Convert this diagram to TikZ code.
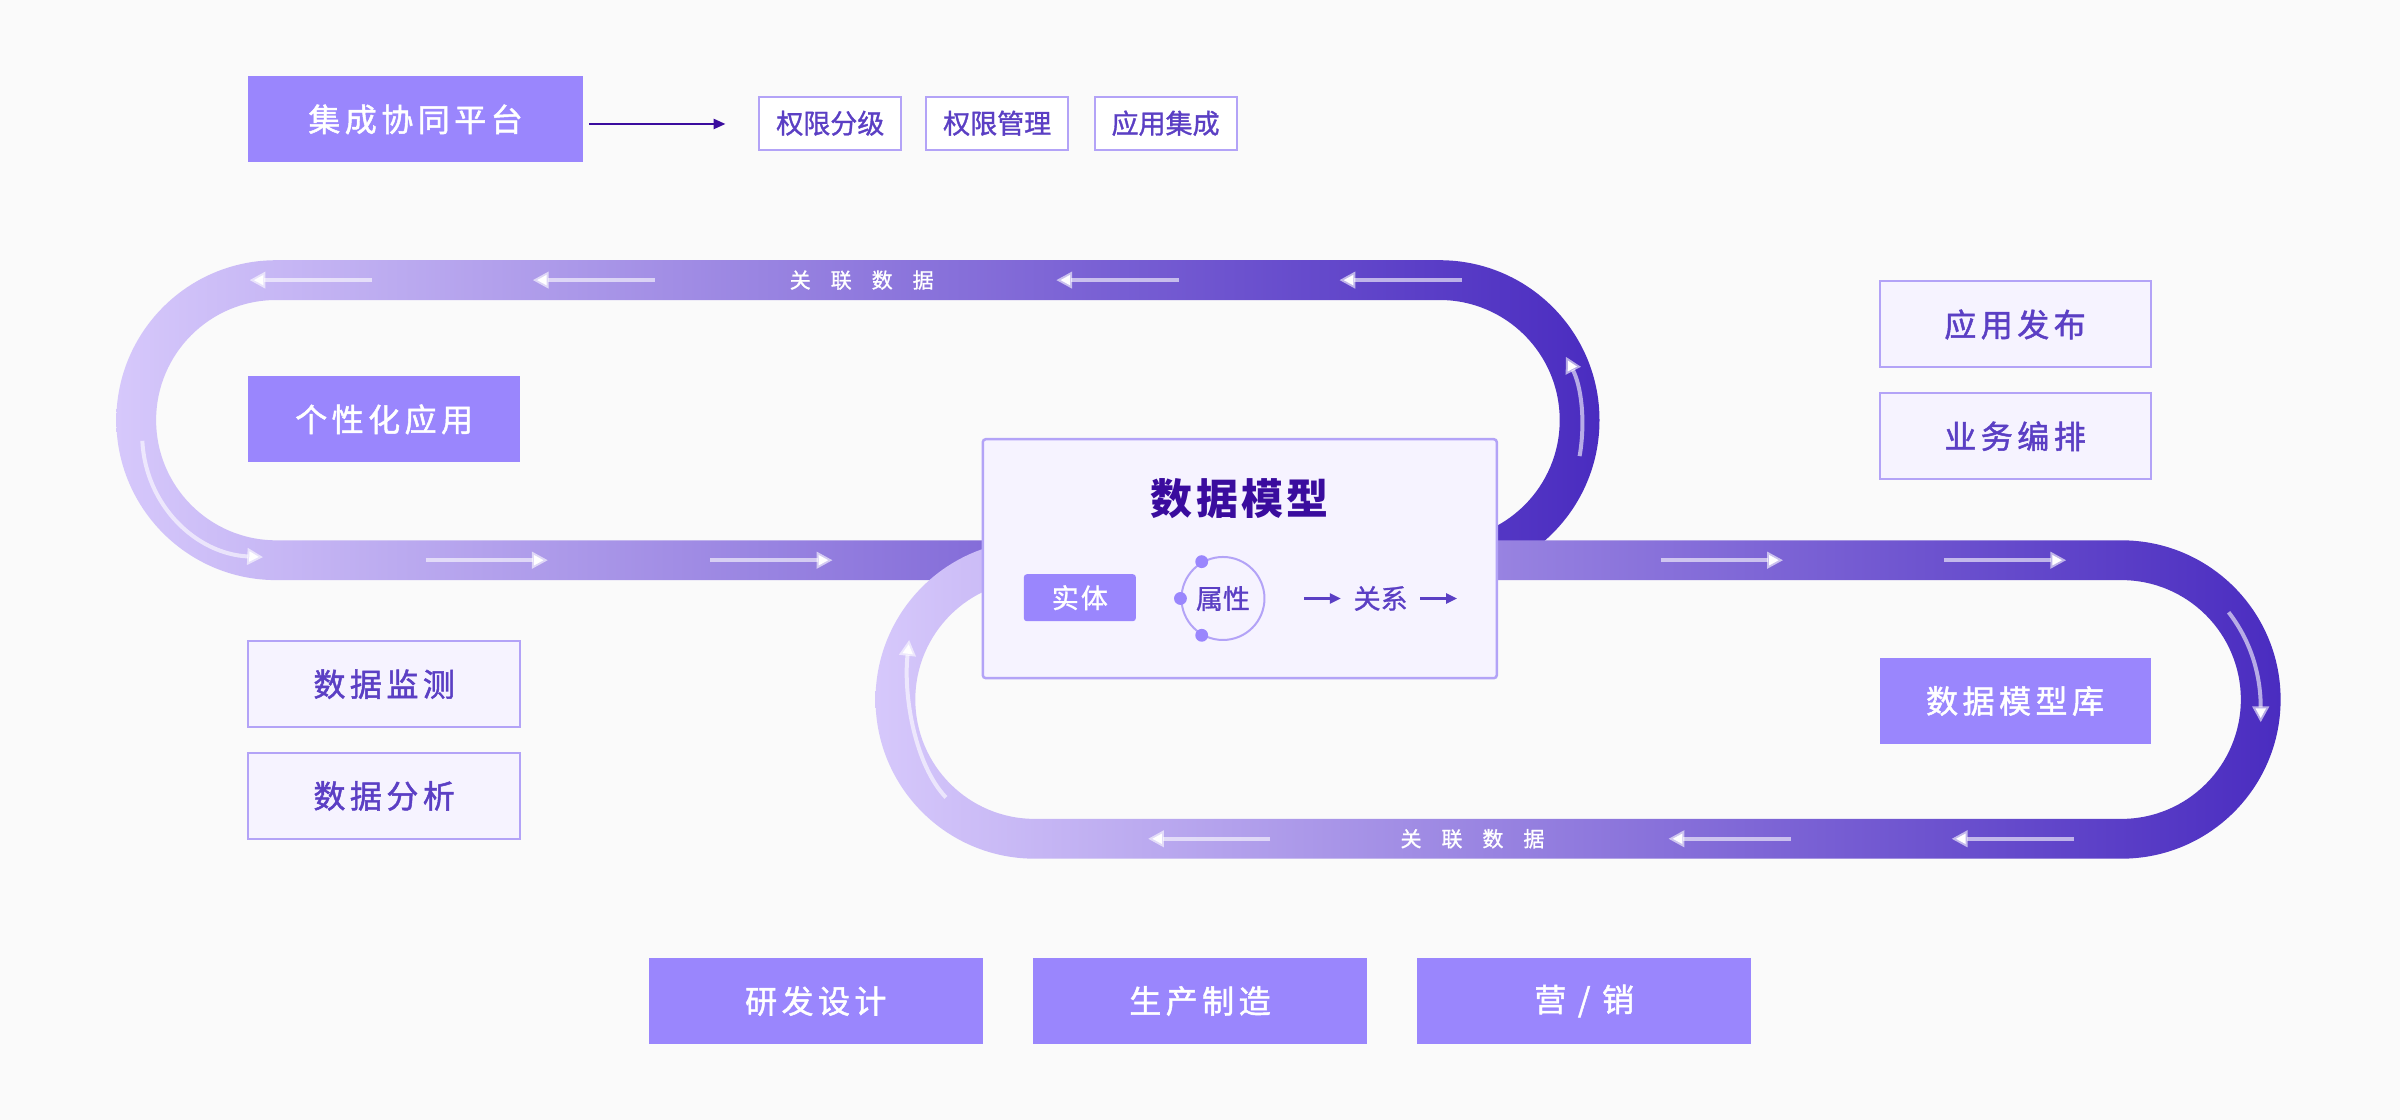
\documentclass[tikz,border=0pt]{standalone}
\usepackage{fontspec}
\setmainfont{Noto Sans CJK SC}
\usetikzlibrary{arrows.meta}
\definecolor{bg}{HTML}{FAFAFA}
\definecolor{fillp}{HTML}{9A86FD}
\definecolor{lightf}{HTML}{F6F3FF}
\definecolor{bord}{HTML}{B3A3F7}
\definecolor{txtp}{HTML}{5B3FC4}
\definecolor{dark}{HTML}{3A0C9E}
\definecolor{trl}{HTML}{D6C8FB}
\definecolor{trd}{HTML}{4A2CC0}
\tikzset{
 solidbox/.style={fill=fillp,draw=none,text=white,font=\fontsize{32}{32}\selectfont\addfontfeatures{LetterSpace=14,FakeBold=1.5},inner sep=0pt},
 lightbox/.style={fill=lightf,draw=bord,line width=2pt,text=txtp,font=\fontsize{32}{32}\selectfont\addfontfeatures{LetterSpace=14,FakeBold=1.5},inner sep=0pt},
 tagbox/.style={fill=white,draw=bord,line width=2pt,text=txtp,font=\fontsize{27}{27}\selectfont\addfontfeatures{FakeBold=1.2},inner sep=0pt},
 flow/.style={draw=white,draw opacity=0.6,line width=4pt,-{Triangle[length=16pt,width=16pt]}},
 tlabel/.style={text=white,font=\fontsize{21}{21}\selectfont\addfontfeatures{LetterSpace=95,FakeBold=1}},
}
\begin{document}
\begin{tikzpicture}[x=1.5306pt,y=-1.5306pt]
\fill[bg] (0,0) rectangle (1568,731.7);
\useasboundingbox (0,0) rectangle (1568,731.7);
% upper loop
\shade[left color=trl,right color=trd,even odd rule]
  (76,170) [rounded corners=159.9pt] rectangle (1045,379)
  (102,196) [rounded corners=120.1pt] rectangle (1019,353);
% lower loop
\shade[left color=trl,right color=trd,even odd rule]
  (572,353) [rounded corners=159.2pt] rectangle (1490,561)
  (598,379) [rounded corners=119.4pt] rectangle (1464,535);
% flow arrows
\coordinate (a1s) at (243,183); \coordinate (a1e) at (163,183);
\coordinate (a2s) at (428,183); \coordinate (a2e) at (348,183);
\coordinate (a3s) at (770,183); \coordinate (a3e) at (690,183);
\coordinate (a4s) at (955,183); \coordinate (a4e) at (875,183);
\coordinate (b1s) at (278,366); \coordinate (b1e) at (358,366);
\coordinate (b2s) at (464,366); \coordinate (b2e) at (544,366);
\coordinate (b3s) at (1085,366); \coordinate (b3e) at (1165,366);
\coordinate (b4s) at (1270,366); \coordinate (b4e) at (1350,366);
\coordinate (c1s) at (830,548); \coordinate (c1e) at (750,548);
\coordinate (c2s) at (1170,548); \coordinate (c2e) at (1090,548);
\coordinate (c3s) at (1355,548); \coordinate (c3e) at (1275,548);
\foreach \p in {a1,a2,a3,a4,b1,b2,b3,b4,c1,c2,c3} \draw[flow] (\p s) -- (\p e);
\coordinate (d1s) at (93,288); \coordinate (d1e) at (172,364);
\draw[flow] (d1s) .. controls (95,330) and (128,362) .. (d1e);
\coordinate (d2s) at (1032,298); \coordinate (d2e) at (1023,233);
\draw[flow] (d2s) .. controls (1036,275) and (1033,252) .. (d2e);
\coordinate (d3s) at (1456,400); \coordinate (d3e) at (1477,472);
\draw[flow] (d3s) .. controls (1470,418) and (1477,440) .. (d3e);
\coordinate (d4s) at (618,521); \coordinate (d4e) at (594,418);
\draw[flow] (d4s) .. controls (598,500) and (590,455) .. (d4e);
\node[tlabel] (l1) at (563,183) {关联数据};
\node[tlabel] (l2) at (962,548) {关联数据};
% top
\node[solidbox,minimum width=335pt,minimum height=86pt] (jc) at (271.5,78) {集成协同平台};
\node[tagbox,minimum width=142pt,minimum height=53pt] (t1) at (542.5,80.5) {权限分级};
\node[tagbox,minimum width=142pt,minimum height=53pt] (t2) at (651.5,80.5) {权限管理};
\node[tagbox,minimum width=142pt,minimum height=53pt] (t3) at (761.5,80.5) {应用集成};
\coordinate (je) at (474,81);
\draw[draw=dark,line width=2.5pt,-{Triangle[length=12pt,width=10pt]}] (jc.east)++(4,3) -- (je);
% left/right boxes
\node[solidbox,minimum width=272pt,minimum height=86pt] (gx) at (251,274) {个性化应用};
\node[lightbox,minimum width=272pt,minimum height=86pt] (jk) at (251,447) {数据监测};
\node[lightbox,minimum width=272pt,minimum height=86pt] (fx) at (251,520) {数据分析};
\node[lightbox,minimum width=271pt,minimum height=86pt] (fb) at (1316.5,212) {应用发布};
\node[lightbox,minimum width=271pt,minimum height=86pt] (bp) at (1316.5,285) {业务编排};
\node[solidbox,minimum width=271pt,minimum height=86pt] (mk) at (1316.5,458) {数据模型库};
% bottom
\node[solidbox,minimum width=334pt,minimum height=86pt] (yf) at (533,654) {研发设计};
\node[solidbox,minimum width=334pt,minimum height=86pt] (sc) at (784,654) {生产制造};
\node[solidbox,minimum width=334pt,minimum height=86pt] (yx) at (1035,654) {营 / 销};
% model box
\node[fill=lightf,draw=bord,line width=2.5pt,rounded corners=3pt,minimum width=514pt,minimum height=239pt,inner sep=0pt] (mb) at (810,365) {};
\node[text=dark,font=\fontsize{42}{42}\selectfont\bfseries\addfontfeatures{LetterSpace=8}] (mt) at (810,326) {数据模型};
\node[solidbox,rounded corners=3pt,minimum width=112pt,minimum height=47pt,font=\fontsize{27}{27}\selectfont\addfontfeatures{LetterSpace=8,FakeBold=1}] (st) at (705.5,390.5) {实体};
\node[circle,draw=bord,line width=2pt,minimum size=83pt,inner sep=0pt,text=txtp,font=\fontsize{27}{27}\selectfont\addfontfeatures{FakeBold=1}] (sx) at (799,391) {属性};
\fill[fillp] (sx.120) circle (4.2) (sx.180) circle (4.2) (sx.240) circle (4.2);
\node[text=txtp,font=\fontsize{27}{27}\selectfont\addfontfeatures{FakeBold=1}] (gxn) at (902,391) {关系};
\coordinate (r1) at (852,391); \coordinate (r2) at (928,391); \coordinate (r3) at (952,391);
\coordinate (r0) at (876,391);
\draw[draw=txtp,line width=2.5pt,-{Triangle[length=11pt,width=10pt]}] (r1) -- (r0);
\draw[draw=txtp,line width=2.5pt,-{Triangle[length=11pt,width=10pt]}] (r2) -- (r3);
\end{tikzpicture}
\end{document}
